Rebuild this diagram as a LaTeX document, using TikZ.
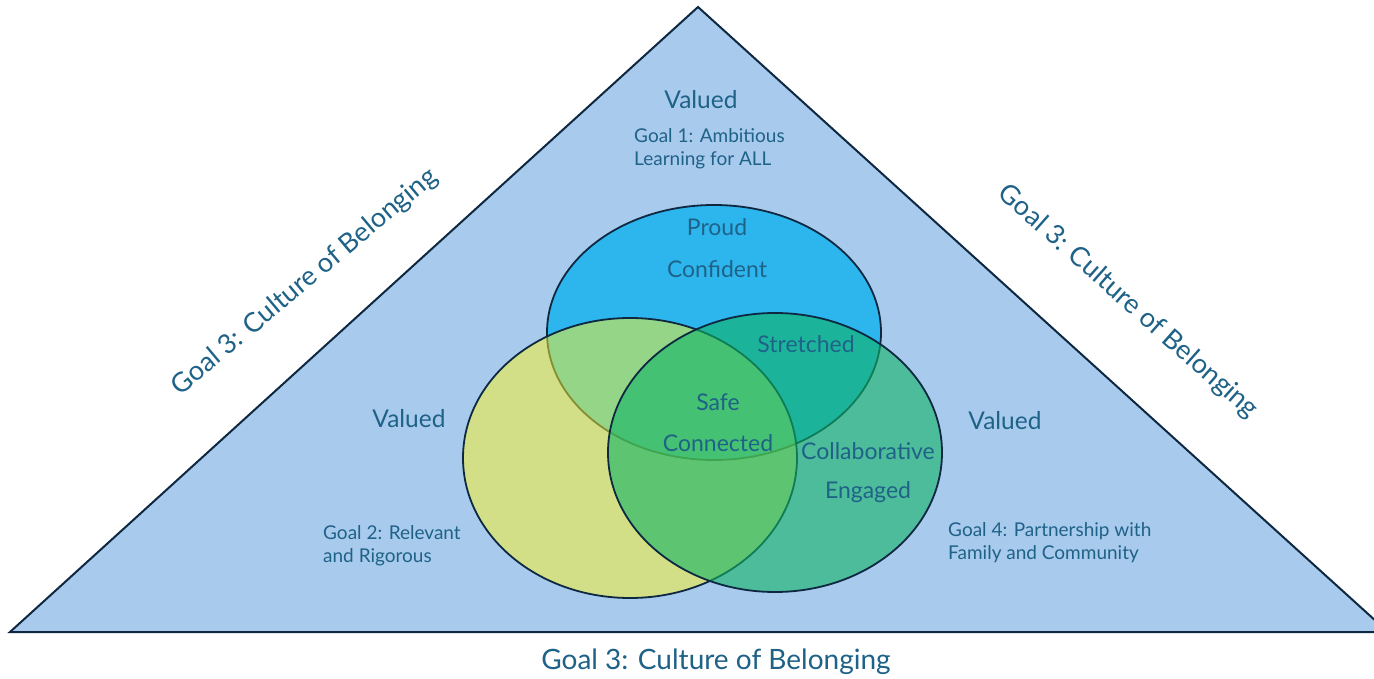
\documentclass[tikz,border=0pt]{standalone}
\usepackage{fontspec}
\setmainfont{Lato}
\definecolor{tri}{HTML}{A8CAEC}
\definecolor{edge}{HTML}{0E2841}
\definecolor{cblue}{HTML}{2DB6EE}
\definecolor{cyel}{RGB}{252,244,36}
\definecolor{cteal}{RGB}{16,180,101}
\definecolor{txt}{HTML}{1F6288}
\tikzset{
  lbl/.style={text=txt, inner sep=0pt, font=\fontsize{#1}{#1}\selectfont},
  goal/.style={text=txt, inner sep=0pt, align=left, anchor=west, font=\fontsize{19}{23}\selectfont},
  ring/.style={draw=edge, line width=1.8pt, draw opacity=1}
}
\begin{document}
\begin{tikzpicture}[x=1pt,y=-1pt]
\useasboundingbox (0,0) rectangle (1374,679);
\clip (0,0) rectangle (1374,679);
\fill[white] (0,0) rectangle (1374,679);
% triangle
\draw[fill=tri, draw=edge, line width=2pt, line join=miter] (698,7) -- (10,632) -- (1388,632) -- cycle;
% ellipses
\path[ring, fill=cblue] (714,332.5) ellipse [x radius=167, y radius=127.5];
\path[ring, fill=cyel, fill opacity=0.5] (630,458) ellipse [x radius=167, y radius=140];
\path[ring, fill=cteal, fill opacity=0.6] (775,452.5) ellipse [x radius=167, y radius=139.5];
% texts
\node[lbl=24.5] (v1) at (701,100) {Valued};
\node[goal] (g1) at (634,148.5) {Goal 1: Ambitious\\Learning for ALL};
\node[lbl=23] (proud) at (717,227) {Proud};
\node[lbl=23] (conf) at (717,269) {Confident};
\node[lbl=23] (str) at (806,344) {Stretched};
\node[lbl=23] (safe) at (718,402) {Safe};
\node[lbl=23] (conn) at (718,443) {Connected};
\node[lbl=23] (coll) at (868,451) {Collaborative};
\node[lbl=23] (eng) at (868,492) {Engaged};
\node[lbl=24.5] (v2) at (409,419) {Valued};
\node[lbl=24.5] (v4) at (1005,421) {Valued};
\node[goal] (g2) at (323,546) {Goal 2: Relevant\\and Rigorous};
\node[goal] (g4) at (948,542.5) {Goal 4: Partnership with\\Family and Community};
\node[lbl=27, rotate=40] (g3l) at (305,282) {Goal 3: Culture of Belonging};
\node[lbl=27, rotate=-41.5] (g3r) at (1128,302) {Goal 3: Culture of Belonging};
\node[lbl=28] (g3b) at (716,662) {Goal 3: Culture of Belonging};
\end{tikzpicture}
\end{document}
